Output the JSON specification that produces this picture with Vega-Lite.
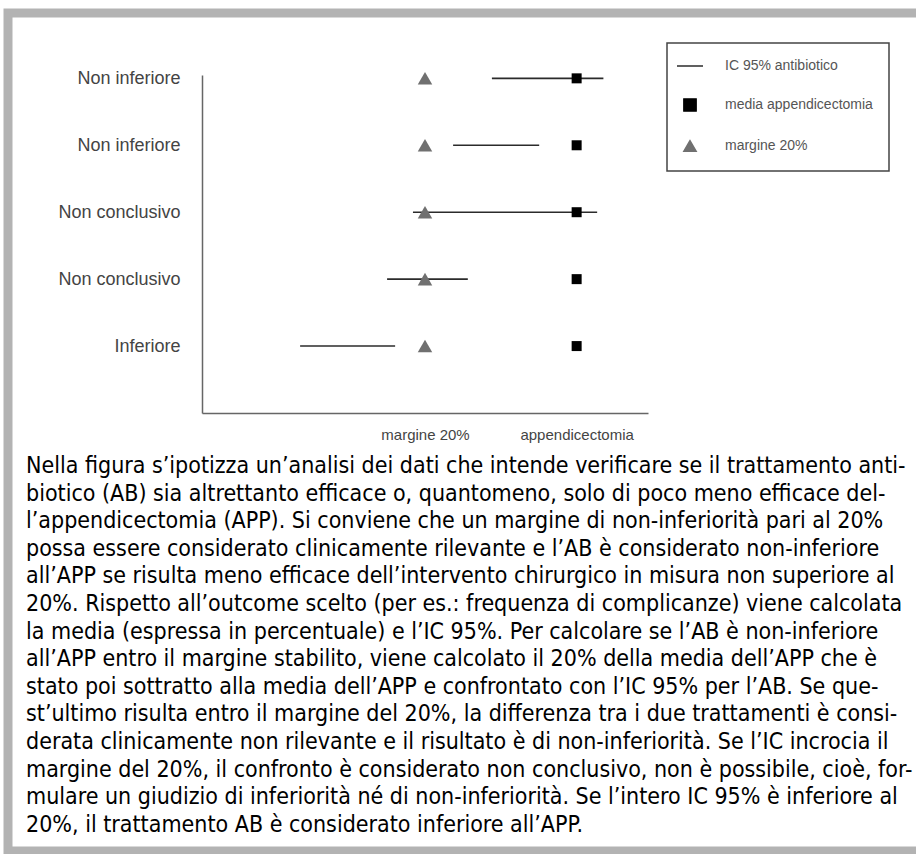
{
  "$schema": "https://vega.github.io/schema/vega-lite/v6.json",
  "width": 914,
  "height": 838,
  "autosize": {"type": "none"},
  "padding": {"left": 8, "top": 13, "right": -6, "bottom": 3},
  "background": "white",
  "config": {
    "view": {"fill": "white", "stroke": "#b3b3b3", "strokeWidth": 9},
    "font": "Liberation Sans",
    "legend": {
      "orient": "none",
      "legendX": 659,
      "legendY": 30,
      "padding": 16,
      "strokeColor": "#444444",
      "fillColor": "white",
      "labelFontSize": 14,
      "labelColor": "#555555",
      "labelLimit": 300,
      "rowPadding": 22,
      "symbolSize": 150,
      "labelOffset": 28,
      "symbolStrokeWidth": 1.5
    }
  },
  "title": {
    "text": [
      "Nella figura s’ipotizza un’analisi dei dati che intende verificare se il trattamento anti-",
      "biotico (AB) sia altrettanto efficace o, quantomeno, solo di poco meno efficace del-",
      "l’appendicectomia (APP). Si conviene che un margine di non-inferiorità pari al 20%",
      "possa essere considerato clinicamente rilevante e l’AB è considerato non-inferiore",
      "all’APP se risulta meno efficace dell’intervento chirurgico in misura non superiore al",
      "20%. Rispetto all’outcome scelto (per es.: frequenza di complicanze) viene calcolata",
      "la media (espressa in percentuale) e l’IC 95%. Per calcolare se l’AB è non-inferiore",
      "all’APP entro il margine stabilito, viene calcolato il 20% della media dell’APP che è",
      "stato poi sottratto alla media dell’APP e confrontato con l’IC 95% per l’AB. Se que-",
      "st’ultimo risulta entro il margine del 20%, la differenza tra i due trattamenti è consi-",
      "derata clinicamente non rilevante e il risultato è di non-inferiorità. Se l’IC incrocia il",
      "margine del 20%, il confronto è considerato non conclusivo, non è possibile, cioè, for-",
      "mulare un giudizio di inferiorità né di non-inferiorità. Se l’intero IC 95% è inferiore al",
      "20%, il trattamento AB è considerato inferiore all’APP."
    ],
    "orient": "bottom",
    "anchor": "start",
    "frame": "group",
    "baseline": "top",
    "offset": 0,
    "dx": 18,
    "dy": -396,
    "fontSize": 23,
    "lineHeight": 27.6,
    "font": "Liberation Sans Narrow, DejaVu Sans Condensed, sans-serif",
    "fontWeight": "normal",
    "color": "#000000"
  },
  "data": {
    "values": [
      {"riga": 1, "esito": "Non inferiore", "serie": "IC 95% antibiotico", "valore": 65, "valore2": 90},
      {"riga": 1, "esito": "Non inferiore", "serie": "media appendicectomia", "valore": 84},
      {"riga": 1, "esito": "Non inferiore", "serie": "margine 20%", "valore": 50},
      {"riga": 2, "esito": "Non inferiore", "serie": "IC 95% antibiotico", "valore": 56.3, "valore2": 75.6},
      {"riga": 2, "esito": "Non inferiore", "serie": "media appendicectomia", "valore": 84},
      {"riga": 2, "esito": "Non inferiore", "serie": "margine 20%", "valore": 50},
      {"riga": 3, "esito": "Non conclusivo", "serie": "IC 95% antibiotico", "valore": 47.3, "valore2": 88.6},
      {"riga": 3, "esito": "Non conclusivo", "serie": "media appendicectomia", "valore": 84},
      {"riga": 3, "esito": "Non conclusivo", "serie": "margine 20%", "valore": 50},
      {"riga": 4, "esito": "Non conclusivo", "serie": "IC 95% antibiotico", "valore": 41.5, "valore2": 59.6},
      {"riga": 4, "esito": "Non conclusivo", "serie": "media appendicectomia", "valore": 84},
      {"riga": 4, "esito": "Non conclusivo", "serie": "margine 20%", "valore": 50},
      {"riga": 5, "esito": "Inferiore", "serie": "IC 95% antibiotico", "valore": 22, "valore2": 43.3},
      {"riga": 5, "esito": "Inferiore", "serie": "media appendicectomia", "valore": 84},
      {"riga": 5, "esito": "Inferiore", "serie": "margine 20%", "valore": 50}
    ]
  },
  "encoding": {
    "x": {
      "field": "valore",
      "type": "quantitative",
      "scale": {"domain": [0, 100], "range": [194, 640], "nice": false, "zero": false},
      "axis": {
        "orient": "bottom",
        "offset": -438,
        "values": [50, 84],
        "labelExpr": "datum.value === 50 ? 'margine 20%' : 'appendicectomia'",
        "title": null,
        "grid": false,
        "ticks": false,
        "domainColor": "#666666",
        "domainWidth": 1.5,
        "labelFontSize": 15,
        "labelColor": "#444444",
        "labelPadding": 14
      }
    },
    "y": {
      "field": "riga",
      "type": "quantitative",
      "scale": {"domain": [0.95, 6], "range": [62, 400], "nice": false, "zero": false},
      "axis": {
        "orient": "left",
        "offset": -194,
        "values": [1, 2, 3, 4, 5],
        "labelExpr": "['', 'Non inferiore', 'Non inferiore', 'Non conclusivo', 'Non conclusivo', 'Inferiore'][datum.value]",
        "title": null,
        "grid": false,
        "ticks": false,
        "domainColor": "#666666",
        "domainWidth": 1.5,
        "labelFontSize": 18,
        "labelColor": "#444444",
        "labelPadding": 22
      }
    },
    "color": {
      "field": "serie",
      "type": "nominal",
      "scale": {
        "domain": ["IC 95% antibiotico", "media appendicectomia", "margine 20%"],
        "range": ["#2b2b2b", "#000000", "#707070"]
      },
      "legend": {
        "title": null,
        "encode": {
          "symbols": {
            "update": {
              "stroke": {"scale": "color", "field": "value"},
              "strokeWidth": {"value": 1.5},
              "size": {"signal": "datum.value === 'IC 95% antibiotico' ? 676 : 150"}
            }
          },
          "legend": {"update": {"strokeWidth": {"value": 1.5}}}
        }
      }
    }
  },
  "layer": [
    {
      "transform": [{"filter": "datum.serie === 'IC 95% antibiotico'"}],
      "mark": {"type": "rule", "strokeWidth": 1.6},
      "encoding": {"x2": {"field": "valore2"}}
    },
    {
      "transform": [{"filter": "datum.serie === 'media appendicectomia'"}],
      "mark": {"type": "point", "filled": true, "opacity": 1, "size": 100},
      "encoding": {
        "shape": {
          "field": "serie",
          "type": "nominal",
          "scale": {
            "domain": ["IC 95% antibiotico", "media appendicectomia", "margine 20%"],
            "range": ["stroke", "square", "triangle-up"]
          },
          "legend": {
            "title": null,
            "encode": {
              "symbols": {
                "update": {
                  "stroke": {"scale": "color", "field": "value"},
                  "strokeWidth": {"value": 1.5},
                  "size": {"signal": "datum.value === 'IC 95% antibiotico' ? 676 : 150"}
                }
              },
              "legend": {"update": {"strokeWidth": {"value": 1.5}}}
            }
          }
        }
      }
    },
    {
      "transform": [{"filter": "datum.serie === 'margine 20%'"}],
      "mark": {"type": "point", "filled": true, "opacity": 1, "size": 210},
      "encoding": {
        "shape": {"field": "serie", "type": "nominal"}
      }
    }
  ]
}
